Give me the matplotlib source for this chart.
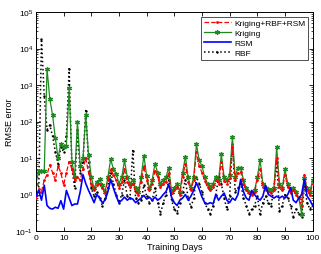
import matplotlib
matplotlib.use("Agg")
import matplotlib.pyplot as plt
from matplotlib.ticker import LogLocator, NullFormatter

days = list(range(0, 101))

hybrid = [0.8, 1.4, 1.2, 2.5, 3.5, 6.5, 4, 2.5, 6, 4, 1.8, 4, 8, 5, 2.5, 3, 2.5, 5, 10, 4,
          2, 1.3, 1.8, 2, 1.5, 1.1, 2.5, 5, 3.5, 2.5, 1.5, 2.2, 5, 2.2, 1.6, 2, 1.2, 1, 2.2, 6,
          2.5, 1.3, 2, 4.5, 3, 1.6, 2, 2.2, 4, 1.1, 1.3, 1.6, 1, 3, 7, 2.2, 1.3, 2.5, 15, 6,
          4, 2.4, 1.6, 1.3, 1.6, 2.5, 2, 8, 2.4, 2, 2.8, 20, 2.5, 4, 4.2, 2, 1.3, 1.1, 1, 1.2,
          2.5, 5, 1.6, 1.3, 1.2, 1.1, 1.3, 10, 1.6, 1.3, 3.5, 1.6, 1.1, 1.3, 1, 0.8, 0.5, 3.5, 1.3, 1,
          2]

kriging = [2.0, 4.5, 4.5, 4.5, 2800, 420, 150, 35, 10, 25, 20, 22, 850, 8, 3, 100, 6, 10, 150, 12,
           3, 1.5, 2.2, 2.6, 1.8, 1.2, 3, 9.3, 5, 3.7, 2, 3, 8.6, 3, 2, 2.5, 1.5, 1.2, 3, 11.6,
           3.3, 1.5, 2.5, 7, 4, 2, 2.5, 3, 5.5, 1.2, 1.5, 2, 1.2, 4, 11, 3, 1.5, 3, 24, 8.7,
           6, 3, 2, 1.5, 2, 3.1, 2.5, 12.7, 3, 2.5, 3.5, 38, 3, 5.5, 5.5, 2.5, 1.5, 1.2, 1.1, 1.3,
           3, 9, 2, 1.5, 1.4, 1.3, 1.5, 20, 2, 1.5, 4.9, 2, 1.3, 1.5, 1.2, 0.8, 0.3, 2.9, 1.5, 1.2,
           2.5]

rsm = [0.9, 1.3, 0.7, 1.8, 0.5, 0.42, 0.4, 0.45, 0.42, 0.68, 0.4, 1.3, 0.8, 0.5, 0.55, 0.55, 1.2, 3.5, 2, 1.3,
       0.9, 0.6, 1.0, 0.8, 0.6, 0.7, 1.2, 2.6, 1.5, 0.9, 0.6, 0.7, 0.85, 0.7, 0.8, 0.75, 0.6, 0.7, 0.8, 0.95,
       0.75, 0.85, 0.7, 0.85, 0.7, 0.8, 1.0, 1.2, 1.9, 0.85, 0.6, 0.5, 0.7, 0.8, 1.0, 0.7, 0.9, 1.3, 2.1, 1.4,
       0.85, 0.6, 0.55, 0.6, 0.55, 1.0, 0.7, 0.9, 1.1, 0.7, 0.6, 0.8, 0.7, 1.0, 2.6, 1.2, 0.8, 0.7, 1.3, 1.0,
       0.8, 0.7, 0.9, 1.8, 1.0, 0.9, 0.8, 0.9, 0.8, 0.9, 0.8, 1.0, 1.55, 0.7, 0.6, 0.8, 1.0, 2.6, 0.9, 0.7,
       0.5]

rbf = [1.0, 1.2, 18000, 500, 60, 80, 40, 15, 7, 20, 15, 40, 2800, 5, 1.5, 60, 4, 8, 200, 8,
       1.5, 0.9, 1.2, 0.8, 0.5, 0.8, 1.5, 4, 2, 1, 0.6, 1, 2.5, 0.9, 0.8, 16, 0.8, 0.6, 0.7, 1.8,
       0.9, 0.6, 0.7, 1.5, 0.6, 0.3, 0.6, 1, 2.5, 0.7, 0.4, 0.32, 0.6, 1.2, 2.5, 0.8, 0.45, 0.8, 3, 2,
       1.2, 0.6, 0.4, 0.3, 0.5, 1, 3, 2, 0.8, 0.4, 0.9, 25, 1.2, 1.5, 2, 0.8, 0.5, 0.3, 0.4, 0.5,
       0.9, 0.29, 0.6, 0.9, 0.6, 0.5, 1.5, 8, 0.35, 0.5, 1, 0.8, 0.5, 0.25, 0.4, 0.3, 0.25, 1.7, 0.6, 0.4,
       0.5]

labels = ["Kriging+RBF+RSM", "Kriging", "RSM", "RBF"]
xticks = list(range(0, 101, 10))

plt.rcParams['font.family'] = ['Liberation Sans', 'DejaVu Sans']
fig = plt.figure(figsize=(3.21, 2.55), dpi=100)
ax = fig.add_axes([0.112, 0.09, 0.862, 0.859])

ax.plot(days, hybrid, color='red', linestyle='--', linewidth=0.9, marker='.', markersize=2.0, label=labels[0], zorder=3)
ax.plot(days, kriging, color='#1f8a1f', linestyle='-', linewidth=0.9, marker=(6, 2, 0), markersize=3.5,
        markeredgewidth=0.9, label=labels[1], zorder=2)
ax.plot(days, rsm, color='blue', linestyle='-', linewidth=1.2, label=labels[2], zorder=4)
ax.plot(days, rbf, color='black', linestyle=':', linewidth=1.1, marker='.', markersize=1.5, label=labels[3], zorder=1)

ax.set_yscale('log')
ax.set_ylim(0.1, 1e5)
ax.set_xlim(0, 100)
ax.set_xticks(xticks)
ax.set_yticks([1e-1, 1e0, 1e1, 1e2, 1e3, 1e4, 1e5])
ax.yaxis.set_minor_locator(LogLocator(base=10, subs=range(2, 10), numticks=20))
ax.yaxis.set_minor_formatter(NullFormatter())
ax.tick_params(which='both', direction='in', top=True, right=True, labelsize=6, pad=2)
ax.tick_params(which='major', length=3, width=0.6)
ax.tick_params(which='minor', length=1.5, width=0.5)
for s in ax.spines.values():
    s.set_linewidth(0.7)

ax.set_xlabel("Training Days", fontsize=6.5, labelpad=1)
ax.set_ylabel("RMSE error", fontsize=6.5, labelpad=1)

leg = ax.legend(loc='upper right', fontsize=6, frameon=True, fancybox=False, edgecolor='black',
                borderpad=0.3, labelspacing=0.25, handlelength=3.2, handletextpad=0.4,
                borderaxespad=0.6)
leg.get_frame().set_linewidth(0.6)

fig.savefig("out.png", dpi=100)
